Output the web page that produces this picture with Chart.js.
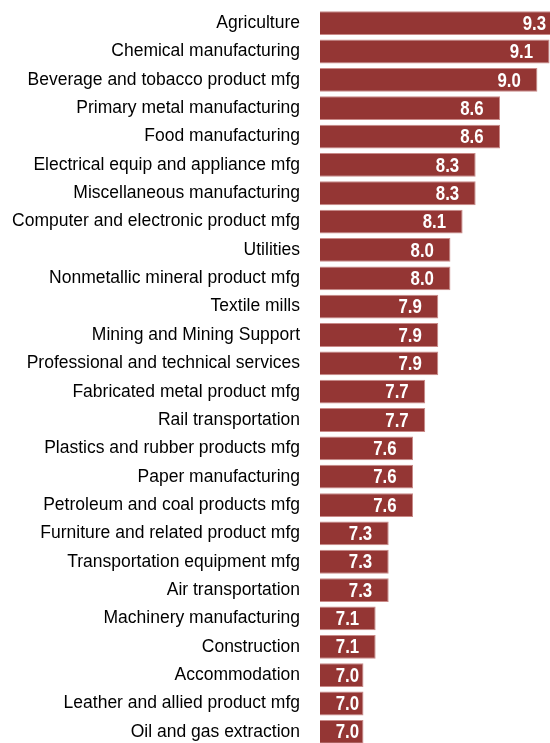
<!DOCTYPE html>
<html>
<head>
<meta charset="utf-8">
<script src="https://cdn.jsdelivr.net/npm/chart.js@4/dist/chart.umd.min.js"></script>
<style>
  html, body { margin: 0; padding: 0; background: #fff; overflow: hidden; }
  #wrap { width: 550px; height: 746px; }
</style>
</head>
<body>
<div id="wrap"><canvas id="c" width="550" height="746"></canvas></div>
<script>
const categories = [
  "Agriculture",
  "Chemical manufacturing",
  "Beverage and tobacco product mfg",
  "Primary metal manufacturing",
  "Food manufacturing",
  "Electrical equip and appliance mfg",
  "Miscellaneous manufacturing",
  "Computer and electronic product mfg",
  "Utilities",
  "Nonmetallic mineral product mfg",
  "Textile mills",
  "Mining and Mining Support",
  "Professional and technical services",
  "Fabricated metal product mfg",
  "Rail transportation",
  "Plastics and rubber products mfg",
  "Paper manufacturing",
  "Petroleum and coal products mfg",
  "Furniture and related product mfg",
  "Transportation equipment mfg",
  "Air transportation",
  "Machinery manufacturing",
  "Construction",
  "Accommodation",
  "Leather and allied product mfg",
  "Oil and gas extraction"
];
const values = [
  9.29, 9.14, 9.00, 8.57, 8.57, 8.29, 8.29, 8.14, 8.00, 8.00,
  7.86, 7.86, 7.86, 7.71, 7.71, 7.57, 7.57, 7.57, 7.29, 7.29,
  7.29, 7.14, 7.14, 7.00, 7.00, 7.00
];
const axisMin = 6.5;
const axisMax = 9.145;

const BAR_COLOR = '#943634';

function hasFont(name) {
  const cv = document.createElement('canvas').getContext('2d');
  cv.font = 'bold 20px monospace';
  const a = cv.measureText('7.0 9.3 abc').width;
  cv.font = 'bold 20px "' + name + '", monospace';
  const b = cv.measureText('7.0 9.3 abc').width;
  return Math.abs(a - b) > 0.5;
}
const narrowOK = hasFont('Liberation Sans Narrow');

const valueLabels = {
  id: 'valueLabels',
  afterDatasetsDraw(chart) {
    const ctx = chart.ctx;
    const xs = chart.scales.x;
    const meta = chart.getDatasetMeta(0);
    const left = chart.chartArea.left;
    ctx.save();
    ctx.fillStyle = '#ffffff';
    ctx.textBaseline = 'middle';
    ctx.textAlign = 'right';
    let sx = 1;
    if (narrowOK) {
      ctx.font = 'bold 20.5px "Liberation Sans Narrow"';
    } else {
      ctx.font = 'bold 20.5px "Liberation Sans", Arial, sans-serif';
      sx = 0.82;
    }
    meta.data.forEach((bar, i) => {
      const v = values[i];
      const txt = v.toFixed(1);
      const w = ctx.measureText(txt).width * sx;
      let xr = xs.getPixelForValue(v) - 16.5;
      if (xr - w < left + 15.7) xr = left + 15.7 + w;
      ctx.save();
      ctx.translate(xr, bar.y + 1);
      ctx.scale(sx, 1);
      ctx.fillText(txt, 0, 0);
      ctx.restore();
    });
    ctx.restore();
  }
};

new Chart(document.getElementById('c'), {
  type: 'bar',
  data: {
    labels: categories,
    datasets: [{
      data: values,
      backgroundColor: BAR_COLOR,
      borderColor: '#c98a88',
      borderWidth: 1,
      borderSkipped: false,
      barPercentage: 0.84,
      categoryPercentage: 1.0
    }]
  },
  options: {
    indexAxis: 'y',
    responsive: false,
    devicePixelRatio: 1,
    animation: false,
    layout: { padding: { top: 9, bottom: 0, left: 0, right: 0 } },
    plugins: {
      legend: { display: false },
      tooltip: { enabled: false }
    },
    scales: {
      x: {
        display: false,
        min: axisMin,
        max: axisMax
      },
      y: {
        afterFit(scale) {
          scale.width = 320;
          scale.paddingTop = 0;
          scale.paddingBottom = 0;
        },
        grid: { display: false, drawTicks: false },
        border: { display: false },
        ticks: {
          autoSkip: false,
          padding: 20,
          color: '#000000',
          font: { family: '"Liberation Sans", Arial, sans-serif', size: 17.5 }
        }
      }
    }
  },
  plugins: [valueLabels]
});
</script>
</body>
</html>
